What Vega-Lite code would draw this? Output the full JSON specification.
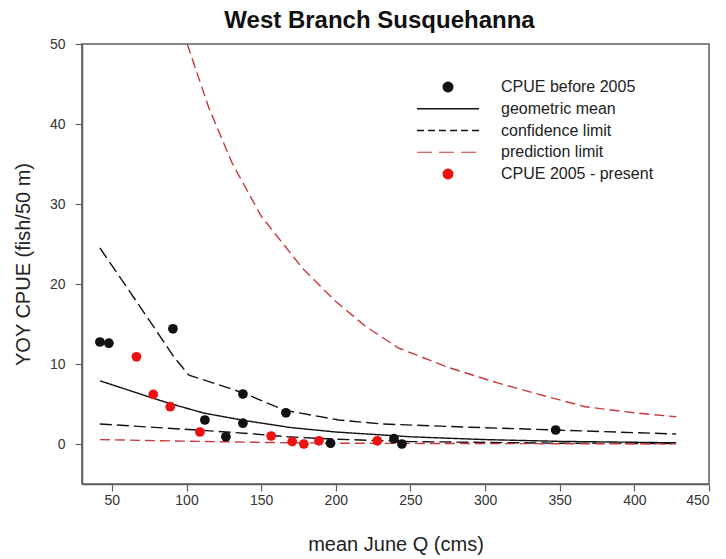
{
  "$schema": "https://vega.github.io/schema/vega-lite/v6.json",
  "width": 627,
  "height": 440,
  "autosize": {"type": "none"},
  "padding": {"left": 82, "top": 44, "right": 17, "bottom": 75},
  "background": "white",
  "config": {
    "font": "Liberation Sans",
    "view": {"stroke": "#5e5e5e", "strokeWidth": 1.5},
    "axis": {
      "grid": false,
      "domainColor": "#5e5e5e",
      "domainWidth": 1.5,
      "tickColor": "#5e5e5e",
      "tickWidth": 1.2,
      "tickSize": 7,
      "labelFont": "Liberation Sans",
      "labelFontSize": 14,
      "labelColor": "#333333",
      "titleFont": "Liberation Sans",
      "titleFontSize": 20,
      "titleFontWeight": "normal",
      "titleColor": "#222222"
    }
  },
  "title": {
    "text": "West Branch Susquehanna",
    "font": "Liberation Sans",
    "fontSize": 24,
    "fontWeight": "bold",
    "color": "#111111",
    "offset": 4,
    "dx": -16
  },
  "datasets": {
    "curves": [
      {"q": 42, "cpue": 7.9, "series": "geometric mean", "part": "mean"},
      {"q": 60, "cpue": 6.8, "series": "geometric mean", "part": "mean"},
      {"q": 78, "cpue": 5.7, "series": "geometric mean", "part": "mean"},
      {"q": 90, "cpue": 5.0, "series": "geometric mean", "part": "mean"},
      {"q": 112, "cpue": 3.85, "series": "geometric mean", "part": "mean"},
      {"q": 140, "cpue": 2.9, "series": "geometric mean", "part": "mean"},
      {"q": 170, "cpue": 2.05, "series": "geometric mean", "part": "mean"},
      {"q": 200, "cpue": 1.5, "series": "geometric mean", "part": "mean"},
      {"q": 250, "cpue": 0.9, "series": "geometric mean", "part": "mean"},
      {"q": 300, "cpue": 0.55, "series": "geometric mean", "part": "mean"},
      {"q": 350, "cpue": 0.33, "series": "geometric mean", "part": "mean"},
      {"q": 428, "cpue": 0.15, "series": "geometric mean", "part": "mean"},

      {"q": 42, "cpue": 24.5, "series": "confidence limit", "part": "conf upper"},
      {"q": 60, "cpue": 19.6, "series": "confidence limit", "part": "conf upper"},
      {"q": 80, "cpue": 14.1, "series": "confidence limit", "part": "conf upper"},
      {"q": 91.5, "cpue": 10.9, "series": "confidence limit", "part": "conf upper"},
      {"q": 101.6, "cpue": 8.6, "series": "confidence limit", "part": "conf upper"},
      {"q": 120, "cpue": 7.5, "series": "confidence limit", "part": "conf upper"},
      {"q": 137.8, "cpue": 6.4, "series": "confidence limit", "part": "conf upper"},
      {"q": 166, "cpue": 4.2, "series": "confidence limit", "part": "conf upper"},
      {"q": 202, "cpue": 3.0, "series": "confidence limit", "part": "conf upper"},
      {"q": 231, "cpue": 2.5, "series": "confidence limit", "part": "conf upper"},
      {"q": 290, "cpue": 2.1, "series": "confidence limit", "part": "conf upper"},
      {"q": 347, "cpue": 1.75, "series": "confidence limit", "part": "conf upper"},
      {"q": 428, "cpue": 1.25, "series": "confidence limit", "part": "conf upper"},

      {"q": 42, "cpue": 2.5, "series": "confidence limit", "part": "conf lower"},
      {"q": 107, "cpue": 1.75, "series": "confidence limit", "part": "conf lower"},
      {"q": 142, "cpue": 1.3, "series": "confidence limit", "part": "conf lower"},
      {"q": 168, "cpue": 0.9, "series": "confidence limit", "part": "conf lower"},
      {"q": 200, "cpue": 0.6, "series": "confidence limit", "part": "conf lower"},
      {"q": 250, "cpue": 0.3, "series": "confidence limit", "part": "conf lower"},
      {"q": 350, "cpue": 0.1, "series": "confidence limit", "part": "conf lower"},
      {"q": 428, "cpue": 0.05, "series": "confidence limit", "part": "conf lower"},

      {"q": 100.5, "cpue": 50, "series": "prediction limit", "part": "pred upper"},
      {"q": 115, "cpue": 42, "series": "prediction limit", "part": "pred upper"},
      {"q": 130.6, "cpue": 35.1, "series": "prediction limit", "part": "pred upper"},
      {"q": 150, "cpue": 28.5, "series": "prediction limit", "part": "pred upper"},
      {"q": 177.5, "cpue": 22, "series": "prediction limit", "part": "pred upper"},
      {"q": 200, "cpue": 17.8, "series": "prediction limit", "part": "pred upper"},
      {"q": 220, "cpue": 14.7, "series": "prediction limit", "part": "pred upper"},
      {"q": 242, "cpue": 12.0, "series": "prediction limit", "part": "pred upper"},
      {"q": 275, "cpue": 9.6, "series": "prediction limit", "part": "pred upper"},
      {"q": 309, "cpue": 7.6, "series": "prediction limit", "part": "pred upper"},
      {"q": 340, "cpue": 6.0, "series": "prediction limit", "part": "pred upper"},
      {"q": 367, "cpue": 4.66, "series": "prediction limit", "part": "pred upper"},
      {"q": 400, "cpue": 3.9, "series": "prediction limit", "part": "pred upper"},
      {"q": 428, "cpue": 3.4, "series": "prediction limit", "part": "pred upper"},

      {"q": 42, "cpue": 0.55, "series": "prediction limit", "part": "pred lower"},
      {"q": 100, "cpue": 0.35, "series": "prediction limit", "part": "pred lower"},
      {"q": 150, "cpue": 0.2, "series": "prediction limit", "part": "pred lower"},
      {"q": 200, "cpue": 0.1, "series": "prediction limit", "part": "pred lower"},
      {"q": 300, "cpue": 0.05, "series": "prediction limit", "part": "pred lower"},
      {"q": 428, "cpue": 0.02, "series": "prediction limit", "part": "pred lower"}
    ],
    "catch": [
      {"q": 42, "cpue": 12.75, "series": "CPUE before 2005"},
      {"q": 48, "cpue": 12.6, "series": "CPUE before 2005"},
      {"q": 90.9, "cpue": 14.4, "series": "CPUE before 2005"},
      {"q": 112.3, "cpue": 3.0, "series": "CPUE before 2005"},
      {"q": 126.4, "cpue": 0.9, "series": "CPUE before 2005"},
      {"q": 137.8, "cpue": 6.25, "series": "CPUE before 2005"},
      {"q": 137.8, "cpue": 2.6, "series": "CPUE before 2005"},
      {"q": 166.6, "cpue": 3.9, "series": "CPUE before 2005"},
      {"q": 196.5, "cpue": 0.1, "series": "CPUE before 2005"},
      {"q": 239, "cpue": 0.66, "series": "CPUE before 2005"},
      {"q": 244.3, "cpue": 0.0, "series": "CPUE before 2005"},
      {"q": 347.3, "cpue": 1.75, "series": "CPUE before 2005"},

      {"q": 66.5, "cpue": 10.9, "series": "CPUE 2005 - present"},
      {"q": 77.7, "cpue": 6.2, "series": "CPUE 2005 - present"},
      {"q": 89.1, "cpue": 4.66, "series": "CPUE 2005 - present"},
      {"q": 109, "cpue": 1.5, "series": "CPUE 2005 - present"},
      {"q": 156.7, "cpue": 1.0, "series": "CPUE 2005 - present"},
      {"q": 170.8, "cpue": 0.3, "series": "CPUE 2005 - present"},
      {"q": 178.6, "cpue": 0.0, "series": "CPUE 2005 - present"},
      {"q": 188.7, "cpue": 0.4, "series": "CPUE 2005 - present"},
      {"q": 227.8, "cpue": 0.4, "series": "CPUE 2005 - present"}
    ]
  },
  "encoding": {
    "x": {
      "field": "q",
      "type": "quantitative",
      "scale": {"domain": [30, 450], "nice": false, "zero": false},
      "axis": {
        "values": [50, 100, 150, 200, 250, 300, 350, 400, 450],
        "title": "mean June Q (cms)",
        "labelPadding": 2,
        "titlePadding": 27
      }
    },
    "y": {
      "field": "cpue",
      "type": "quantitative",
      "scale": {"domain": [-5, 50], "nice": false, "zero": false},
      "axis": {
        "values": [0, 10, 20, 30, 40, 50],
        "title": "YOY CPUE (fish/50 m)",
        "labelPadding": 10,
        "titlePadding": 16
      }
    }
  },
  "layer": [
    {
      "data": {"name": "curves"},
      "mark": {"type": "line", "clip": true},
      "encoding": {
        "color": {
          "field": "series",
          "type": "nominal",
          "scale": {
            "domain": ["CPUE before 2005", "geometric mean", "confidence limit", "prediction limit", "CPUE 2005 - present"],
            "range": ["#111111", "#111111", "#111111", "#c83a3a", "#ee1111"]
          },
          "legend": {
            "title": null,
            "orient": "none",
            "legendX": 358,
            "legendY": 35,
            "padding": 0,
            "rowPadding": 5.75,
            "symbolOffset": 0,
            "labelOffset": 45,
            "labelFont": "Liberation Sans",
            "labelFontSize": 16,
            "labelColor": "#222222",
            "encode": {
              "symbols": {
                "update": {
                  "shape": {"signal": "indexof(['CPUE before 2005', 'CPUE 2005 - present'], datum.value) >= 0 ? 'circle' : 'stroke'"},
                  "size": {"signal": "indexof(['CPUE before 2005', 'CPUE 2005 - present'], datum.value) >= 0 ? 90 : 3844"},
                  "fill": {"signal": "indexof(['CPUE before 2005', 'CPUE 2005 - present'], datum.value) >= 0 ? scale('color', datum.value) : 'transparent'"},
                  "stroke": {"signal": "indexof(['CPUE before 2005', 'CPUE 2005 - present'], datum.value) >= 0 ? 'transparent' : scale('color', datum.value)"},
                  "strokeWidth": {"signal": "datum.value == 'prediction limit' ? 1.2 : 1.4"},
                  "strokeDash": {"signal": "datum.value == 'confidence limit' ? [7, 4] : datum.value == 'prediction limit' ? [15, 7] : [1, 0]"},
                  "opacity": {"value": 1}
                }
              }
            }
          }
        },
        "strokeDash": {
          "field": "series",
          "type": "nominal",
          "scale": {
            "domain": ["geometric mean", "confidence limit", "prediction limit"],
            "range": [[1, 0], [12, 5], [10, 5]]
          },
          "legend": null
        },
        "strokeWidth": {
          "field": "series",
          "type": "nominal",
          "scale": {
            "domain": ["geometric mean", "confidence limit", "prediction limit"],
            "range": [1.4, 1.4, 1.2]
          },
          "legend": null
        },
        "detail": {"field": "part"},
        "order": {"field": "q", "type": "quantitative"}
      }
    },
    {
      "data": {"name": "catch"},
      "mark": {"type": "circle", "size": 95, "opacity": 1},
      "encoding": {
        "color": {"field": "series", "type": "nominal"}
      }
    }
  ]
}
